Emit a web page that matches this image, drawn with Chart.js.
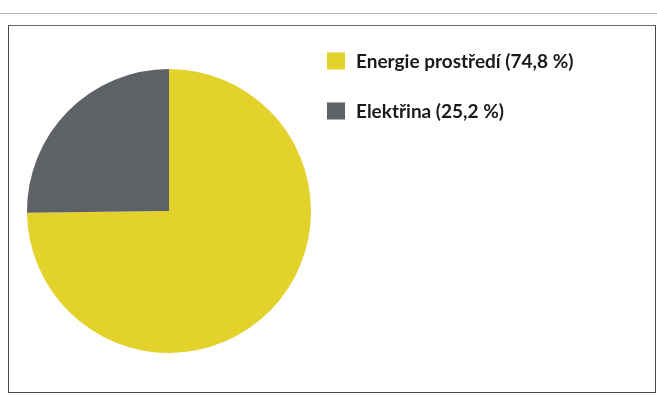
<!DOCTYPE html>
<html>
<head>
<meta charset="utf-8">
<script src="https://cdn.jsdelivr.net/npm/chart.js@4/dist/chart.umd.min.js"></script>
<style>
  html, body { margin: 0; padding: 0; background: #ffffff; }
  #wrap { position: relative; width: 657px; height: 395px; overflow: hidden; background: #fff; }
  #topline { position: absolute; left: 0; top: 13px; width: 657px; height: 0; border-top: 1px solid #b8b8b8; }
  #frame { position: absolute; left: 8px; top: 25px; width: 646px; height: 366px; border: 1px solid #4a4a4a; border-top-color: #6a6a6a; }
  canvas { position: absolute; left: 0; top: 0; }
</style>
</head>
<body>
<div id="wrap">
  <div id="topline"></div>
  <div id="frame"></div>
  <canvas id="c" width="657" height="395"></canvas>
</div>
<script>
const categories = ["Energie prostředí (74,8 %)", "Elektřina (25,2 %)"];
const shares = [74.8, 25.2];
const sliceColors = ["#e3d12c", "#5e6266"];

const legendPlugin = {
  id: 'sideLegend',
  afterDraw(chart) {
    const ctx = chart.ctx;
    const labels = chart.data.labels;
    const colors = chart.data.datasets[0].backgroundColor;
    ctx.save();
    ctx.font = 'bold 19px Lato, "Open Sans", sans-serif';
    ctx.textBaseline = 'middle';
    ctx.textAlign = 'left';
    labels.forEach((lab, i) => {
      const cy = 61 + i * 50;
      ctx.fillStyle = colors[i];
      ctx.fillRect(327, cy - 8.5, 18, 17);
      ctx.fillStyle = '#1a1a1a';
      ctx.fillText(lab, 356, cy + 1);
    });
    ctx.restore();
  }
};

new Chart(document.getElementById('c'), {
  type: 'pie',
  data: {
    labels: categories,
    datasets: [{
      data: shares,
      backgroundColor: sliceColors,
      borderWidth: 0
    }]
  },
  options: {
    responsive: false,
    animation: false,
    layout: { padding: { left: 27, top: 69, right: 346, bottom: 42 } },
    plugins: {
      legend: { display: false },
      tooltip: { enabled: false }
    }
  },
  plugins: [legendPlugin]
});
</script>
</body>
</html>
